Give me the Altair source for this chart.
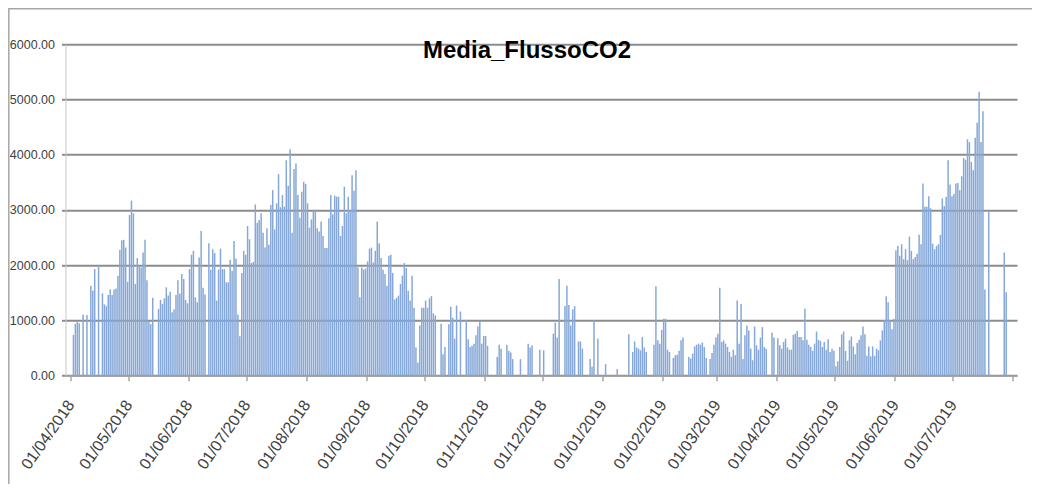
import altair as alt
import pandas as pd

# Daily values (0 = no data), one list per month, Apr 2018 .. Jul 2019
apr18 = [0, 740, 940, 980, 950, 0, 1110, 0, 1100, 0, 1630, 1540, 1930, 0, 1990, 0, 1490, 1290, 1260, 1460,
         1560, 1460, 1560, 1580, 1810, 2280, 2450, 2460, 2320, 1700]
may18 = [2910, 3170, 2940, 1660, 2130, 1980, 1960, 2230, 2460, 1730, 980, 930, 1410, 0, 0, 1210, 1370, 1300,
         1400, 1600, 1450, 1520, 1150, 1200, 1460, 1730, 1490, 1840, 1750, 1370, 1310]
jun18 = [1930, 2190, 2260, 1420, 1330, 2140, 2620, 1590, 1470, 0, 2400, 1920, 2290, 2220, 1360, 1920, 2300,
         1930, 1930, 1690, 1690, 2100, 1900, 2440, 2120, 1110, 715, 1860, 2260, 2190]
jul18 = [2710, 2470, 2040, 2060, 3100, 2770, 2820, 2940, 2590, 2320, 2670, 2370, 3090, 3360, 2650, 3120, 3650,
         3050, 3270, 3060, 3900, 3440, 4100, 2590, 3740, 3840, 3270, 2860, 3330, 3510, 3470]
aug18 = [3120, 2680, 2830, 2990, 2990, 2670, 2610, 2790, 2530, 2310, 2310, 2850, 3270, 2920, 3260, 3240, 3240,
         2530, 2710, 3420, 2940, 3240, 2990, 3630, 3350, 3720, 1960, 1420, 1960, 1920, 1940]
sep18 = [2070, 2300, 2320, 2050, 2260, 2790, 2400, 2130, 1920, 1840, 1630, 2170, 2190, 1860, 1380, 1410, 1450,
         1660, 1810, 2040, 1950, 1540, 1360, 1810, 1230, 510, 240, 910, 1230, 1230]
oct18 = [1360, 1230, 1400, 1440, 1130, 1090, 0, 0, 940, 390, 520, 0, 930, 1250, 1050, 670, 1270, 0, 1160, 0,
         0, 1010, 660, 520, 540, 580, 730, 890, 980, 580, 720]
nov18 = [720, 540, 0, 0, 0, 0, 340, 560, 490, 0, 0, 560, 450, 420, 300, 0, 0, 0, 300, 0, 0, 0, 580, 510, 550,
         0, 0, 0, 470, 0]
dec18 = [460, 0, 0, 0, 0, 760, 960, 690, 1750, 0, 0, 1260, 1630, 1280, 910, 1200, 1260, 0, 620, 620, 490, 0,
         0, 0, 300, 160, 1000, 0, 670, 0, 0]
jan19 = [0, 210, 0, 0, 0, 0, 0, 120, 0, 0, 0, 0, 0, 750, 0, 430, 620, 510, 490, 460, 700, 510, 430, 0, 0, 0,
         560, 1620, 640, 580, 830]
feb19 = [1030, 1030, 470, 430, 0, 320, 370, 380, 450, 640, 690, 0, 0, 340, 310, 400, 530, 560, 580, 560, 600,
         520, 320, 0, 300, 410, 560, 690]
mar19 = [760, 1590, 610, 640, 580, 520, 430, 340, 470, 370, 1360, 580, 1300, 300, 730, 910, 820, 490, 280, 890,
         550, 470, 690, 880, 520, 490, 0, 0, 780, 690, 0]
apr19 = [680, 550, 490, 610, 670, 510, 470, 470, 740, 760, 810, 700, 700, 640, 1210, 650, 560, 520, 450, 580,
         800, 650, 630, 520, 610, 470, 660, 430, 490, 450]
may19 = [170, 260, 520, 750, 800, 450, 270, 640, 710, 530, 390, 590, 650, 730, 890, 750, 360, 530, 350, 530,
         360, 490, 460, 640, 820, 1000, 1440, 1330, 1000, 840, 1030]
jun19 = [2270, 2350, 2170, 2380, 2110, 2290, 2090, 2520, 2260, 2110, 2150, 2210, 2550, 2380, 3480, 3060, 3060,
         3250, 3030, 2390, 2290, 2350, 2380, 2550, 3210, 3070, 3240, 3900, 3460, 3250]
jul19 = [3290, 3480, 3490, 3360, 3610, 3940, 3910, 4280, 4230, 3870, 3720, 4310, 4580, 5140, 4230, 4790, 1560,
         0, 2970, 0, 0, 0, 0, 0, 0, 0, 2230, 1510, 0, 0]

y_ticks = [0, 1000, 2000, 3000, 4000, 5000, 6000]
title_text = ["Media_FlussoCO2"]

months = [apr18, may18, jun18, jul18, aug18, sep18, oct18, nov18, dec18,
          jan19, feb19, mar19, apr19, may19, jun19, jul19]
values = [v for m in months for v in m]
dates = pd.date_range("2018-04-01", periods=len(values), freq="D") + pd.Timedelta(hours=12)
df = pd.DataFrame({"date": dates.strftime("%Y-%m-%dT%H:%M:%S"), "v": values})

month_starts = [alt.DateTime(year=2018 + (3 + i) // 12, month=(3 + i) % 12 + 1, date=1) for i in range(16)]
tick_values = month_starts + [alt.DateTime(year=2019, month=7, date=31, hours=12)]

FONT = "Liberation Sans, Arial, sans-serif"
W, H = 951.5, 331.4

bars = alt.Chart(df).transform_filter("datum.v > 0").mark_bar(
    width=1.5, color="#86a8d8"
).encode(
    x=alt.X("date:T",
            scale=alt.Scale(domain=[alt.DateTime(year=2018, month=4, date=1),
                                    alt.DateTime(year=2019, month=7, date=31, hours=12)]),
            axis=alt.Axis(values=tick_values,
                          labelExpr="date(datum.value) == 1 ? timeFormat(datum.value, '%d/%m/%Y') : ''",
                          labelAngle=-55, labelAlign="right", labelBaseline="middle",
                          labelFont=FONT, labelFontSize=16, labelColor="#404040",
                          labelPadding=21, tickSize=5, tickColor="#a6a6a6", tickWidth=1.5,
                          domainColor="#a6a6a6", domainWidth=1.5, grid=False, labelOverlap=False),
            title=None),
    y=alt.Y("v:Q",
            scale=alt.Scale(domain=[0, 6000], nice=False),
            axis=alt.Axis(values=y_ticks, format=".2f", grid=True, gridColor="#8c8c8c", gridWidth=2,
                          tickSize=4, tickColor="#8c8c8c", tickWidth=2, domainColor="#c8c8c8",
                          labelFont=FONT, labelFontSize=12.5, labelColor="#404040", labelPadding=7),
            title=None),
)

title = alt.Chart(pd.DataFrame({"t": title_text})).mark_text(
    font=FONT, fontSize=24, fontWeight="bold", color="#000000", align="center", baseline="alphabetic"
).encode(text="t:N", x=alt.value(461.5), y=alt.value(13.7))

border = alt.Chart(pd.DataFrame({"a": [0]})).mark_rect(
    filled=False, stroke="#a6a6a6", strokeWidth=1.5, clip=False
).encode(x=alt.value(-56.7), x2=alt.value(1000), y=alt.value(-35.5), y2=alt.value(470))

chart = alt.layer(bars, title, border).properties(
    width=W, height=H,
    padding={"left": 57.5, "top": 36.3, "right": 15, "bottom": 108},
    autosize=alt.AutoSizeParams(type="none"),
).configure_view(stroke=None)

chart.save("out.html", embed_options={"renderer": "svg", "actions": False})
